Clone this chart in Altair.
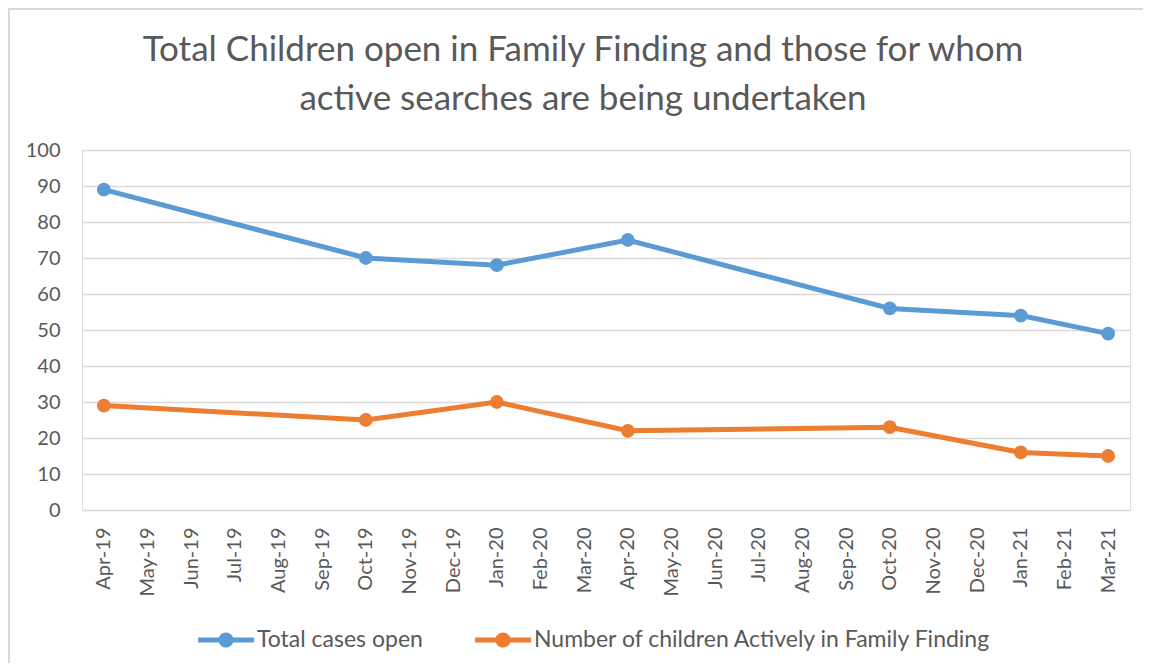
import altair as alt
import pandas as pd

months = ["Apr-19", "May-19", "Jun-19", "Jul-19", "Aug-19", "Sep-19", "Oct-19", "Nov-19",
          "Dec-19", "Jan-20", "Feb-20", "Mar-20", "Apr-20", "May-20", "Jun-20", "Jul-20",
          "Aug-20", "Sep-20", "Oct-20", "Nov-20", "Dec-20", "Jan-21", "Feb-21", "Mar-21"]
obs_months = ["Apr-19", "Oct-19", "Jan-20", "Apr-20", "Oct-20", "Jan-21", "Mar-21"]
total_open = [89, 70, 68, 75, 56, 54, 49]
active_ff = [29, 25, 30, 22, 23, 16, 15]
series = ["Total cases open", "Number of children Actively in Family Finding"]
colors = ["#5B9BD5", "#ED7D31"]

df = pd.DataFrame({
    "month": obs_months * 2,
    "value": total_open + active_ff,
    "series": [series[0]] * len(obs_months) + [series[1]] * len(obs_months),
})

FONT = "Lato"
TXT = "#595959"
W, H = 1048, 360

sym = ("M-1,-0.09 L-0.2,-0.09 L-0.2,0.09 L-1,0.09 Z "
       "M0.2,-0.09 L1,-0.09 L1,0.09 L0.2,0.09 Z "
       "M-0.27,0 A0.27,0.27 0 1,1 0.27,0 A0.27,0.27 0 1,1 -0.27,0 Z")

legend = alt.Legend(title=None, orient="none", legendX=116, legendY=462,
                    direction="horizontal", columns=2, columnPadding=52,
                    symbolType=sym, symbolSize=3136, symbolStrokeWidth=0,
                    symbolOpacity=1, labelFontSize=23, labelFont=FONT,
                    labelColor=TXT, labelOffset=3, labelLimit=700)

x = alt.X("month:O", scale=alt.Scale(domain=months, type="point", padding=0.5),
          axis=alt.Axis(title=None, labelAngle=-90, labelFontSize=20, labelColor=TXT,
                        labelFont=FONT, ticks=False, domain=False, grid=False,
                        labelPadding=17))
y = alt.Y("value:Q", scale=alt.Scale(domain=[0, 100], nice=False),
          axis=alt.Axis(title=None, values=list(range(0, 101, 10)), labelFontSize=20,
                        labelColor=TXT, labelFont=FONT, ticks=False, domain=False,
                        gridColor="#D9D9D9", gridWidth=1.5, labelPadding=22))
color = alt.Color("series:N", scale=alt.Scale(domain=series, range=colors), legend=legend)

base = alt.Chart(df)
lines = base.mark_line(strokeWidth=5).encode(x=x, y=y, color=color)
points = base.mark_point(filled=True, size=190, opacity=1).encode(x=x, y=y, color=color)
border = alt.Chart(pd.DataFrame({"a": [0]})).mark_rect(
    fill=None, stroke="#D9D9D9", strokeWidth=2).encode(
    x=alt.value(-73), x2=alt.value(W + 40), y=alt.value(-141), y2=alt.value(H + 200))

chart = alt.layer(border, lines, points).properties(
    width=W, height=H,
    autosize=alt.AutoSizeParams(type="none"),
    padding={"left": 74, "top": 142, "right": 13, "bottom": 153},
    title=alt.TitleParams(
        text=["Total Children open in Family Finding and those for whom",
              "active searches are being undertaken"],
        font=FONT, fontSize=35, fontWeight="normal", color=TXT, anchor="middle",
        dx=-23, offset=-109, lineHeight=49),
).configure_view(stroke=None).configure(background="white")

chart.save("out.html", embed_options={"renderer": "svg", "actions": False})
